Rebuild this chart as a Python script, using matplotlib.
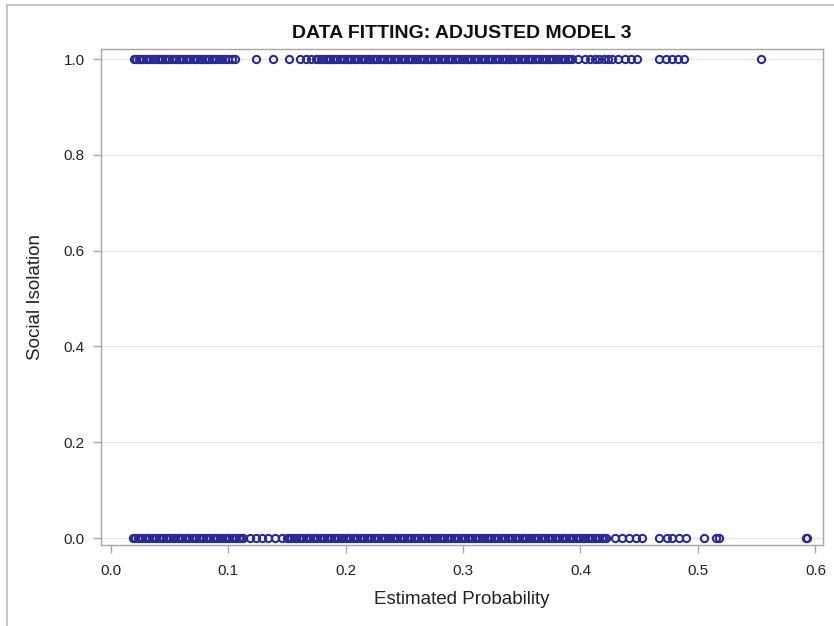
import matplotlib
matplotlib.use("Agg")
import matplotlib.pyplot as plt
from matplotlib.lines import Line2D

# ---- data ----
title = "DATA FITTING: ADJUSTED MODEL 3"
x_label = "Estimated Probability"
y_label = "Social Isolation"

# estimated probabilities for observations with Social Isolation = 1
prob_isolated = [
    0.020, 0.022, 0.024, 0.026, 0.028, 0.030, 0.032, 0.034, 0.036, 0.038,
    0.040, 0.042, 0.044, 0.046, 0.048, 0.050, 0.052, 0.054, 0.056, 0.058,
    0.060, 0.062, 0.064, 0.066, 0.068, 0.070, 0.072, 0.074, 0.076, 0.078,
    0.080, 0.082, 0.084, 0.086, 0.088, 0.090, 0.092, 0.095, 0.097, 0.100,
    0.103, 0.106,
    0.124, 0.138, 0.152, 0.161, 0.166, 0.171,
    0.175, 0.177, 0.179, 0.181, 0.183, 0.185, 0.187, 0.189, 0.191, 0.193,
    0.195, 0.197, 0.199, 0.201, 0.203, 0.205, 0.207, 0.209, 0.211, 0.213,
    0.215, 0.217, 0.219, 0.221, 0.223, 0.225, 0.227, 0.229, 0.231, 0.233,
    0.235, 0.237, 0.239, 0.241, 0.243, 0.245, 0.247, 0.249, 0.251, 0.253,
    0.255, 0.257, 0.259, 0.261, 0.263, 0.265, 0.267, 0.269, 0.271, 0.273,
    0.275, 0.277, 0.279, 0.281, 0.283, 0.285, 0.287, 0.289, 0.291, 0.293,
    0.295, 0.297, 0.299, 0.301, 0.303, 0.305, 0.307, 0.309, 0.311, 0.313,
    0.315, 0.317, 0.319, 0.321, 0.323, 0.325, 0.327, 0.329, 0.331, 0.333,
    0.335, 0.337, 0.339, 0.341, 0.343, 0.345, 0.347, 0.349, 0.351, 0.353,
    0.355, 0.357, 0.359, 0.361, 0.363, 0.365, 0.367, 0.369, 0.371, 0.373,
    0.375, 0.377, 0.379, 0.381, 0.383, 0.385, 0.387, 0.389, 0.391, 0.393,
    0.398, 0.404, 0.408, 0.412, 0.416, 0.420, 0.423, 0.427, 0.432, 0.438,
    0.443, 0.448, 0.467, 0.473, 0.478, 0.483, 0.488, 0.554,
]

# estimated probabilities for observations with Social Isolation = 0
prob_not_isolated = [
    0.019, 0.021, 0.023, 0.025, 0.027, 0.029, 0.031, 0.033, 0.035, 0.037,
    0.039, 0.041, 0.043, 0.045, 0.047, 0.049, 0.051, 0.053, 0.055, 0.057,
    0.059, 0.061, 0.063, 0.065, 0.067, 0.069, 0.071, 0.073, 0.075, 0.077,
    0.079, 0.081, 0.083, 0.085, 0.087, 0.089, 0.091, 0.093, 0.095, 0.097,
    0.099, 0.101, 0.103, 0.105, 0.107, 0.109, 0.111, 0.113,
    0.119, 0.124, 0.129, 0.134, 0.140, 0.146,
    0.150, 0.152, 0.154, 0.156, 0.158, 0.160, 0.162, 0.164, 0.166, 0.168,
    0.170, 0.172, 0.174, 0.176, 0.178, 0.180, 0.182, 0.184, 0.186, 0.188,
    0.190, 0.192, 0.194, 0.196, 0.198, 0.200, 0.202, 0.204, 0.206, 0.208,
    0.210, 0.212, 0.214, 0.216, 0.218, 0.220, 0.222, 0.224, 0.226, 0.228,
    0.230, 0.232, 0.234, 0.236, 0.238, 0.240, 0.242, 0.244, 0.246, 0.248,
    0.250, 0.252, 0.254, 0.256, 0.258, 0.260, 0.262, 0.264, 0.266, 0.268,
    0.270, 0.272, 0.274, 0.276, 0.278, 0.280, 0.282, 0.284, 0.286, 0.288,
    0.290, 0.292, 0.294, 0.296, 0.298, 0.300, 0.302, 0.304, 0.306, 0.308,
    0.310, 0.312, 0.314, 0.316, 0.318, 0.320, 0.322, 0.324, 0.326, 0.328,
    0.330, 0.332, 0.334, 0.336, 0.338, 0.340, 0.342, 0.344, 0.346, 0.348,
    0.350, 0.352, 0.354, 0.356, 0.358, 0.360, 0.362, 0.364, 0.366, 0.368,
    0.370, 0.372, 0.374, 0.376, 0.378, 0.380, 0.382, 0.384, 0.386, 0.388,
    0.390, 0.392, 0.394, 0.396, 0.398, 0.400, 0.402, 0.404, 0.406, 0.408,
    0.410, 0.412, 0.414, 0.416, 0.418, 0.420, 0.422,
    0.429, 0.435, 0.441, 0.447, 0.452,
    0.467, 0.474, 0.478, 0.484, 0.490,
    0.505, 0.515, 0.518, 0.592, 0.593,
]

x_ticks = [0.0, 0.1, 0.2, 0.3, 0.4, 0.5, 0.6]
y_ticks = [0.0, 0.2, 0.4, 0.6, 0.8, 1.0]

# ---- style ----
plt.rcParams['font.family'] = ['Liberation Sans', 'DejaVu Sans']
marker_color = '#2A2A96'
frame_color = '#A8A8A8'
text_color = '#222222'

fig = plt.figure(figsize=(8.34, 6.26), dpi=100)
ax = fig.add_axes([0.1217, 0.1294, 0.8651, 0.7923])

marker_style = dict(linestyle='none', marker='o', markersize=5.2,
                    markerfacecolor='none', markeredgecolor=marker_color,
                    markeredgewidth=1.5, zorder=3)
ax.plot(prob_isolated, [1.0] * len(prob_isolated), **marker_style)
ax.plot(prob_not_isolated, [0.0] * len(prob_not_isolated), **marker_style)

ax.set_xlim(-0.0077, 0.6064)
ax.set_ylim(-0.0146, 1.021)
ax.set_xticks(x_ticks)
ax.set_xticklabels([f"{v:.1f}" for v in x_ticks])
ax.set_yticks(y_ticks)
ax.set_yticklabels([f"{v:.1f}" for v in y_ticks])

ax.yaxis.grid(True, color='#E6E6E6', linewidth=1.0, zorder=0)
ax.set_axisbelow(True)
for sp in ax.spines.values():
    sp.set_color(frame_color)
    sp.set_linewidth(1.0)
ax.tick_params(axis='both', direction='out', length=6.0, width=1.0,
               color=frame_color, labelsize=11, labelcolor=text_color)
ax.tick_params(axis='x', pad=8)
ax.tick_params(axis='y', pad=6)

ax.set_xlabel(x_label, fontsize=13.5, color=text_color, labelpad=9)
ax.set_ylabel(y_label, fontsize=13.5, color=text_color, labelpad=14)
ax.set_title(title, fontsize=14, fontweight='bold', color='#111111', pad=8)

# outer graph border (left and top visible)
fig.add_artist(Line2D([0.0078, 0.0078], [0.0, 0.992], transform=fig.transFigure,
                      color='#BBBBBB', linewidth=1.2))
fig.add_artist(Line2D([0.0078, 1.0], [0.992, 0.992], transform=fig.transFigure,
                      color='#BBBBBB', linewidth=1.2))

fig.savefig("out.png", dpi=100)
